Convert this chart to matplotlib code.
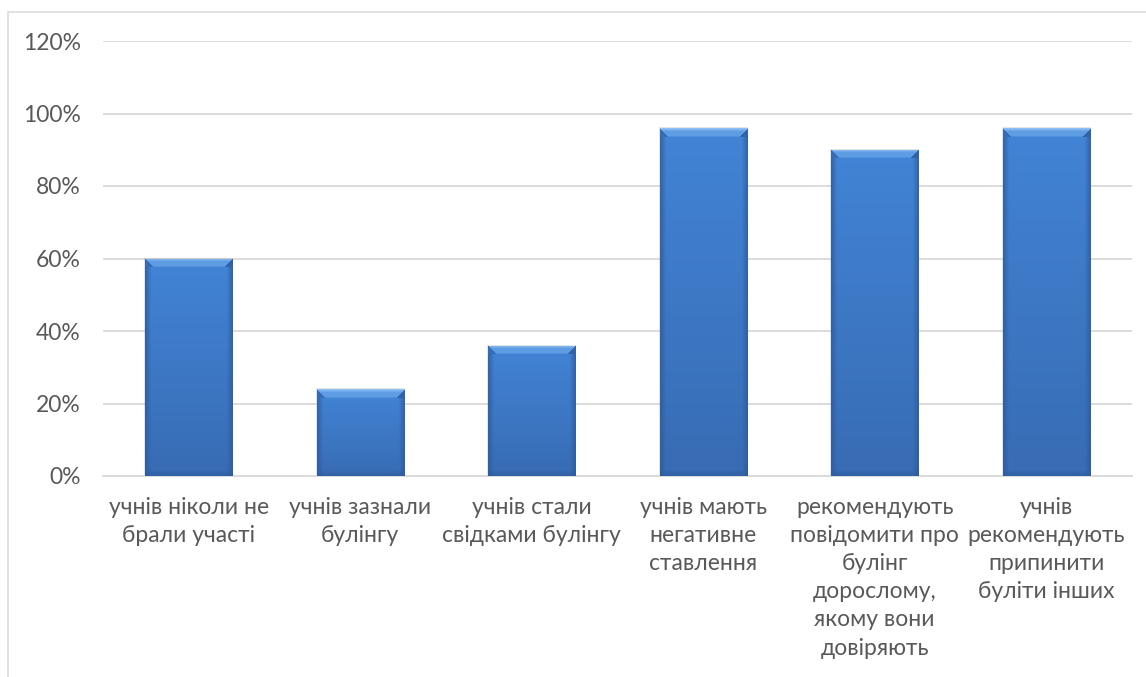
import numpy as np
import matplotlib
matplotlib.use("Agg")
import matplotlib.pyplot as plt
from matplotlib.patches import Rectangle
from matplotlib.colors import to_rgb

# ---- data -------------------------------------------------------------
categories = [
    "учнів ніколи не\nбрали участі",
    "учнів зазнали\nбулінгу",
    "учнів стали\nсвідками булінгу",
    "учнів мають\nнегативне\nставлення",
    "рекомендують\nповідомити про\nбулінг\nдорослому,\nякому вони\nдовіряють",
    "учнів\nрекомендують\nприпинити\nбуліти інших",
]
values = [60, 24, 36, 96, 90, 96]
y_ticks = [0, 20, 40, 60, 80, 100, 120]
y_tick_labels = ["0%", "20%", "40%", "60%", "80%", "100%", "120%"]

# ---- styling ----------------------------------------------------------
plt.rcParams["font.family"] = ["Lato", "DejaVu Sans"]
TEXT = "#595959"
GRID = "#D9D9D9"
W, H, DPI = 1146, 677, 100

fig = plt.figure(figsize=(W / DPI, H / DPI), dpi=DPI)
fig.patch.set_facecolor("white")

# chart-area border (left and top edges visible)
fig.patches.append(Rectangle((8 / W, -0.2), 2.0, 1 - 12 / H + 0.2,
                             transform=fig.transFigure, fill=False,
                             edgecolor=GRID, linewidth=1.1))

ax = fig.add_axes([103 / W, 1 - 476 / H, (1132 - 103) / W, (476 - 41) / H])
x = np.arange(len(categories))
ax.set_xlim(-0.5, len(categories) - 0.5)
ax.set_ylim(0, 120)

ax.set_yticks(y_ticks)
ax.set_yticklabels(y_tick_labels)
ax.yaxis.grid(True, color=GRID, linewidth=1.3)
ax.set_axisbelow(True)
for s in ["left", "right", "top"]:
    ax.spines[s].set_visible(False)
ax.spines["bottom"].set_color(GRID)
ax.spines["bottom"].set_linewidth(1.3)
ax.tick_params(axis="y", length=0, pad=16, labelsize=16.5, labelcolor=TEXT)
ax.tick_params(axis="x", length=0, pad=15, labelsize=16.5, labelcolor=TEXT)
ax.set_xticks(x)
ax.set_xticklabels(categories, linespacing=1.42)

bars = ax.bar(x, values, width=0.51, color="#3F7ECF", zorder=2)

# ---- beveled gradient fill for each bar --------------------------------
fig.canvas.draw()
top_c = np.array(to_rgb("#4284D6"))
bot_c = np.array(to_rgb("#386CB4"))
side_c = np.array(to_rgb("#2D5A9B"))
bevel_c = np.array(to_rgb("#5E9DE4"))
hilite_c = np.array(to_rgb("#8CBFF4"))

for b in bars:
    x0, y0 = b.get_x(), b.get_y()
    x1, y1 = x0 + b.get_width(), y0 + b.get_height()
    p0 = ax.transData.transform((x0, y0))
    p1 = ax.transData.transform((x1, y1))
    wpx = max(int(round(p1[0] - p0[0])), 2)
    hpx = max(int(round(p1[1] - p0[1])), 2)
    t = np.linspace(0, 1, hpx)[:, None, None]
    img = top_c * (1 - t) + bot_c * t
    img = np.broadcast_to(img, (hpx, wpx, 3)).copy()
    cols = np.arange(wpx)
    rows = np.arange(hpx)
    # darker sides
    edge = 6.0
    dl = np.clip(1 - cols / edge, 0, 1)
    dr = np.clip(1 - (wpx - 1 - cols) / edge, 0, 1)
    dside = np.maximum(dl, dr)[None, :, None] * 0.75
    img = img * (1 - dside) + side_c * dside
    # darker bottom rim
    bdist = np.clip(1 - (hpx - 1 - rows) / 6.0, 0, 1)[:, None, None] * 0.6
    img = img * (1 - bdist) + side_c * bdist
    # top bevel with mitred corners
    bev = 9
    for r in range(min(bev, hpx)):
        if r < 3:
            c = hilite_c * (1 - r / 3) + bevel_c * (r / 3)
        elif r < bev - 2:
            c = bevel_c
        else:
            f = (r - (bev - 2)) / 2
            c = bevel_c * (1 - f) + top_c * f
        lo, hi = r, wpx - 1 - r
        if hi > lo:
            img[r, lo:hi + 1] = c
        img[r, :lo] = side_c * 0.55 + top_c * 0.45
        img[r, hi + 1:] = side_c * 0.8 + top_c * 0.2
    # soft shadow
    ax.add_patch(Rectangle((x0, y0), b.get_width(), b.get_height(),
                           facecolor="none", edgecolor="#7F7F7F",
                           linewidth=1.2, alpha=0.25, zorder=1.9))
    im = ax.imshow(img, extent=(x0, x1, y0, y1), aspect="auto",
                   interpolation="nearest", zorder=3, origin="upper")
    im.set_clip_path(b)

ax.set_xlim(-0.5, len(categories) - 0.5)
ax.set_ylim(0, 120)

fig.savefig("out.png", dpi=DPI, facecolor="white")
